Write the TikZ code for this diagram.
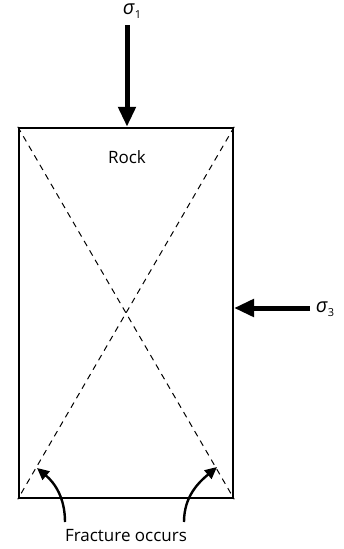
\documentclass[tikz,border=0pt]{standalone}
\usepackage{fontspec}
\setmainfont{Open Sans}
\usetikzlibrary{arrows.meta}
\newcommand{\sig}[1]{{\itshape σ}\kern0.5pt\raisebox{-0.35ex}{\fontsize{11}{12}\selectfont #1}}
\begin{document}
\begin{tikzpicture}[x=1pt,y=-1pt,
  lbl/.style={font=\fontsize{17}{20}\selectfont, inner sep=0pt},
  siglbl/.style={font=\fontsize{20}{22}\selectfont, inner sep=0pt},
  bigarrow/.style={line width=5pt, -{Triangle[length=20pt,width=17pt]}},
  smallarrow/.style={line width=2.4pt, -{Triangle[length=12pt,width=11pt]}},
  diag/.style={line width=1pt, dash pattern=on 6pt off 5pt}]
\useasboundingbox (0,0) rectangle (343,549);
\node[draw, line width=2.5pt, minimum width=214pt, minimum height=370pt, inner sep=0pt] (rock) at (126,313) {};
\node[lbl] (rocklbl) at (127,157) {Rock};
\draw[diag] (rock.north west) -- (rock.south east);
\draw[diag] (rock.north east) -- (rock.south west);
\node[siglbl] (s1) at (132,11) {\sig{1}};
\coordinate (s1start) at (127,25);
\draw[bigarrow] (s1start) -- (rock.north -| s1start);
\node[siglbl] (s3) at (325,309) {\sig{3}};
\coordinate (s3start) at (310,308);
\coordinate (s3end) at (234,308);
\draw[bigarrow] (s3start) -- (s3end);
\node[lbl] (frac) at (126,536) {Fracture occurs};
\coordinate (la) at (65,522);
\coordinate (lt) at (37,468);
\coordinate (ra) at (184,522);
\coordinate (rt) at (217,467);
\draw[smallarrow] (la) to[out=90,in=-40] (lt);
\draw[smallarrow] (ra) to[out=90,in=220] (rt);
\end{tikzpicture}
\end{document}
